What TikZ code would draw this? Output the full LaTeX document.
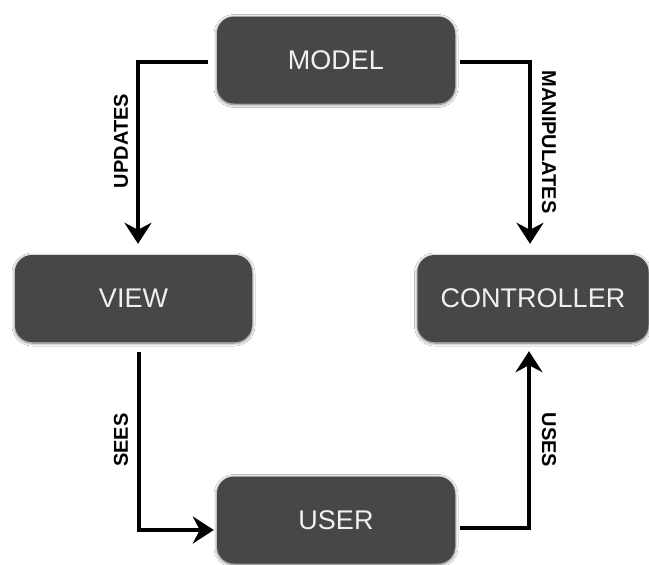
\documentclass[tikz,border=0pt]{standalone}
\usepackage{fontspec}
\setmainfont{Liberation Sans}
\usetikzlibrary{arrows.meta,shadows.blur}
\definecolor{boxgray}{HTML}{474747}
\tikzset{
  mvcbox/.style={draw=none, fill=boxgray, rounded corners=17pt, minimum height=87pt,
    text=white!94!black, font=\fontsize{27}{30}\selectfont, inner sep=0pt,
    blur shadow={shadow xshift=0pt, shadow yshift=-1pt, shadow blur radius=3pt, shadow blur steps=8, shadow opacity=60}},
  arr/.style={line width=3.6pt, -{Stealth[length=21pt,width=27pt,inset=7pt]}},
  lbl/.style={font=\bfseries\fontsize{20}{22}\selectfont, text=black, inner sep=0pt}
}
\begin{document}
\begin{tikzpicture}[x=1pt,y=-1pt]
\useasboundingbox[fill=white] (0,0) rectangle (649,565);
\node[mvcbox, minimum width=238pt] (model) at (336,60) {MODEL};
\node[mvcbox, minimum width=237pt] (view) at (133.5,298.5) {VIEW};
\node[mvcbox, minimum width=231pt] (ctrl) at (533,298.5) {CONTROLLER};
\node[mvcbox, minimum width=238pt] (user) at (336,520) {USER};
\draw[arr] ([xshift=-9pt,yshift=-2pt]model.west) -| ([xshift=4.5pt,yshift=11pt]view.north);
\draw[arr] ([xshift=5pt,yshift=-2pt]model.east) -| ([xshift=-3pt,yshift=11pt]ctrl.north);
\draw[arr] ([xshift=5.5pt,yshift=-10pt]view.south) |- ([xshift=-3pt,yshift=-10pt]user.west);
\draw[arr] ([xshift=5pt,yshift=-8pt]user.east) -| ([xshift=-4pt,yshift=-9pt]ctrl.south);
\node[lbl, rotate=90] (lupd) at (121,141) {UPDATES};
\node[lbl, rotate=-90] (lman) at (549,142) {MANIPULATES};
\node[lbl, rotate=90] (lsees) at (121,440) {SEES};
\node[lbl, rotate=-90] (luses) at (549,440) {USES};
\end{tikzpicture}
\end{document}
